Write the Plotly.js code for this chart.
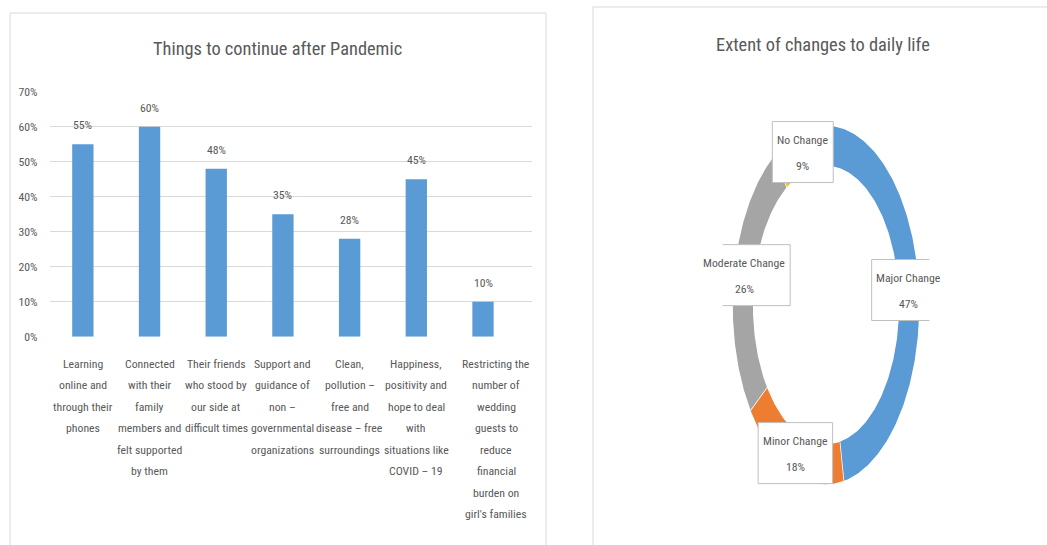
<!DOCTYPE html>
<html>
<head>
<meta charset="utf-8">
<script src="https://cdn.plot.ly/plotly-3.0.1.min.js"></script>
<style>
  html, body { margin: 0; padding: 0; background: #ffffff; }
  #chart { width: 1047px; height: 545px; }
</style>
</head>
<body>
<div id="chart"></div>
<script>
// ---- Data: things to continue after the pandemic (bar chart) ----
const continueCategories = [
  "Learning<br>online and<br>through their<br>phones",
  "Connected<br>with their<br>family<br>members and<br>felt supported<br>by them",
  "Their friends<br>who stood by<br>our side at<br>difficult times",
  "Support and<br>guidance of<br>non –<br>governmental<br>organizations",
  "Clean,<br>pollution –<br>free and<br>disease – free<br>surroundings",
  "Happiness,<br>positivity and<br>hope to deal<br>with<br>situations like<br>COVID – 19",
  "Restricting the<br>number of<br>wedding<br>guests to<br>reduce<br>financial<br>burden on<br>girl's families"
];
const continueShares = [0.55, 0.60, 0.48, 0.35, 0.28, 0.45, 0.10];
const yTickValues = [0, 0.1, 0.2, 0.3, 0.4, 0.5, 0.6, 0.7];

// ---- Data: extent of changes to daily life (donut chart) ----
const changeLabels = ["Major Change", "Minor Change", "Moderate Change", "No Change"];
const changeShares = [47, 18, 26, 9];
const changeColors = ["#5B9BD5", "#ED7D31", "#A5A5A5", "#FFC000"];

// ---- Styling ----
const W = 1047, H = 545;
const FONT = "'Liberation Sans Narrow', 'Arial Narrow', 'Noto Sans Condensed', 'Roboto Condensed', 'DejaVu Sans Condensed', sans-serif";
const TEXT_GREY = "#595959";
const GRID_GREY = "#D9D9D9";
const BAR_BLUE = "#5B9BD5";
const R_OUT = 1.0, R_IN = 0.77;

const pxX = x => x / W;          // pixel column -> paper x
const pxY = y => (H - y) / H;    // pixel row (from top) -> paper y

// Text measuring, used to size fonts to their width budgets and the label boxes
const measureCtx = document.createElement("canvas").getContext("2d");
function textWidth(s, size) {
  measureCtx.font = size + "px " + FONT;
  return measureCtx.measureText(s).width;
}
const LABEL_WIDTH_BUDGET = 82;   // px for "Moderate Change"
const TITLE_WIDTH_BUDGET = 249;  // px for the bar chart title
const LABEL_SIZE = Math.min(13, 12.5 * LABEL_WIDTH_BUDGET / textWidth("Moderate Change", 12.5));
const TITLE_SIZE = Math.min(19.5, 18.7 * TITLE_WIDTH_BUDGET / textWidth("Things to continue after Pandemic", 18.7));
const labelFont = { family: FONT, size: LABEL_SIZE, color: TEXT_GREY };
const titleFont = { family: FONT, size: TITLE_SIZE, color: TEXT_GREY };

const traces = [];
const annotations = [];
const shapes = [];

// Bars
traces.push({
  type: "bar",
  x: continueCategories,
  y: continueShares,
  marker: { color: BAR_BLUE },
  xaxis: "x", yaxis: "y",
  hovertemplate: "%{y:.0%}<extra></extra>"
});

// Value labels above the bars
continueCategories.forEach((cat, i) => {
  annotations.push({
    xref: "x", yref: "y", x: cat, y: continueShares[i],
    text: Math.round(continueShares[i] * 100) + "%",
    showarrow: false, yanchor: "bottom", yshift: 10,
    font: labelFont
  });
});

// Wrapped category labels under the bars, one line per annotation
const catFirstLine = 363.5, catLineStep = 21.5;
continueCategories.forEach((cat, i) => {
  const shift = i === continueCategories.length - 1 ? 13 : 0; // long last label sits a little right
  cat.split("<br>").forEach((line, j) => {
    annotations.push({
      xref: "x", yref: "paper", x: cat, y: pxY(catFirstLine + j * catLineStep),
      xshift: shift,
      text: line, showarrow: false, yanchor: "middle", xanchor: "center",
      font: labelFont
    });
  });
});

// Donut ring on an axis pair whose pixel scale is taller than wide
const total = changeShares.reduce((a, b) => a + b, 0);
let cum = 0;
changeShares.forEach((v, i) => {
  const a0 = cum / total * 2 * Math.PI;
  const a1 = (cum + v) / total * 2 * Math.PI;
  cum += v;
  const n = Math.max(8, Math.ceil((a1 - a0) / (Math.PI / 180)));
  const xs = [], ys = [];
  for (let k = 0; k <= n; k++) {
    const a = a0 + (a1 - a0) * k / n;
    xs.push(R_OUT * Math.sin(a)); ys.push(R_OUT * Math.cos(a));
  }
  for (let k = n; k >= 0; k--) {
    const a = a0 + (a1 - a0) * k / n;
    xs.push(R_IN * Math.sin(a)); ys.push(R_IN * Math.cos(a));
  }
  traces.push({
    type: "scatter", mode: "lines", x: xs, y: ys,
    fill: "toself", fillcolor: changeColors[i],
    line: { color: "#ffffff", width: 1.5 },
    xaxis: "x2", yaxis: "y2",
    name: changeLabels[i], hoveron: "fills",
    text: changeLabels[i] + ": " + v + "%", hoverinfo: "text"
  });

  // Data label box centred on the ring at the slice's middle angle
  const am = (a0 + a1) / 2;
  const rm = (R_OUT + R_IN) / 2;
  const lx = rm * Math.sin(am), ly = rm * Math.cos(am);
  const pct = v + "%";
  const halfW = Math.max(textWidth(changeLabels[i], LABEL_SIZE), textWidth(pct, LABEL_SIZE)) / 2 + 5;
  shapes.push({
    type: "rect", xref: "x2", yref: "y2",
    xsizemode: "pixel", ysizemode: "pixel",
    xanchor: lx, yanchor: ly,
    x0: -halfW, x1: halfW, y0: -30.5, y1: 30.5,
    fillcolor: "#ffffff", line: { color: "#BFBFBF", width: 1 },
    layer: "above"
  });
  annotations.push({
    xref: "x2", yref: "y2", x: lx, y: ly, yshift: 12,
    text: changeLabels[i], showarrow: false, font: labelFont
  });
  annotations.push({
    xref: "x2", yref: "y2", x: lx, y: ly, yshift: -14,
    text: pct, showarrow: false, font: labelFont
  });
});

// Titles
annotations.push({
  xref: "paper", yref: "paper", x: pxX(277.5), y: pxY(48),
  xanchor: "center", yanchor: "middle",
  text: "Things to continue after Pandemic", showarrow: false, font: titleFont
});
annotations.push({
  xref: "paper", yref: "paper", x: pxX(823), y: pxY(45),
  xanchor: "center", yanchor: "middle",
  text: "Extent of changes to daily life", showarrow: false, font: titleFont
});

// Chart-area frames
shapes.unshift(
  { type: "rect", xref: "paper", yref: "paper",
    x0: pxX(10), x1: pxX(546), y0: pxY(570), y1: pxY(13),
    line: { color: GRID_GREY, width: 1 }, layer: "below" },
  { type: "rect", xref: "paper", yref: "paper",
    x0: pxX(593), x1: pxX(1070), y0: pxY(570), y1: pxY(7),
    line: { color: GRID_GREY, width: 1 }, layer: "below" }
);

// Donut axes: 94 px per unit across, 180 px per unit down
const dR = 1.1, cx = 826, cy = 305, ux = 94, uy = 180;

const layout = {
  width: W, height: H,
  margin: { l: 0, r: 0, t: 0, b: 0, pad: 0 },
  paper_bgcolor: "#ffffff", plot_bgcolor: "rgba(0,0,0,0)",
  showlegend: false,
  bargap: 0.68,
  font: { family: FONT, color: TEXT_GREY },
  xaxis: {
    domain: [pxX(49.5), pxX(532)], type: "category",
    showticklabels: false, showgrid: false, zeroline: false, showline: false,
    fixedrange: true
  },
  yaxis: {
    domain: [pxY(336.7), pxY(91.7)], range: [0, 0.7],
    tickvals: yTickValues, tickformat: ".0%",
    showgrid: true, gridcolor: GRID_GREY, gridwidth: 1,
    zeroline: false, showline: false, ticks: "",
    ticklabelstandoff: 11,
    tickfont: labelFont,
    fixedrange: true
  },
  xaxis2: {
    domain: [pxX(cx - dR * ux), pxX(cx + dR * ux)], range: [-dR, dR],
    visible: false, anchor: "y2", fixedrange: true
  },
  yaxis2: {
    domain: [pxY(cy + dR * uy), pxY(cy - dR * uy)], range: [-dR, dR],
    visible: false, anchor: "x2", fixedrange: true
  },
  annotations: annotations,
  shapes: shapes
};

Plotly.newPlot("chart", traces, layout, { displayModeBar: false });
</script>
</body>
</html>
